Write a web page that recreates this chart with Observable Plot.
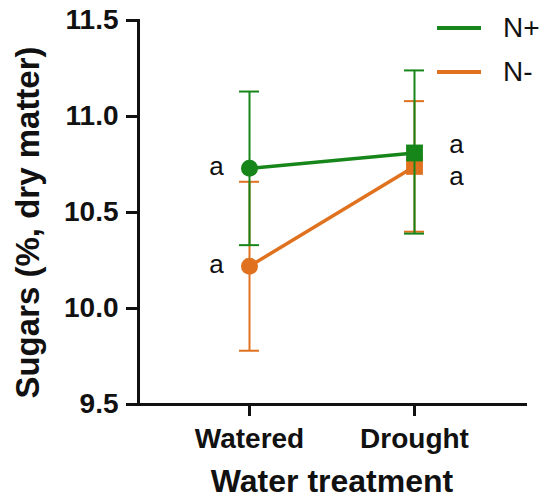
<!DOCTYPE html>
<html>
<head>
<meta charset="utf-8">
<script src="https://cdn.jsdelivr.net/npm/d3@7"></script>
<script src="https://cdn.jsdelivr.net/npm/@observablehq/plot@0.6"></script>
<style>
  html, body { margin: 0; padding: 0; background: #fff; }
  #wrap { position: relative; width: 540px; height: 500px; font-family: "Liberation Sans", Arial, sans-serif; }
  #legend { position: absolute; left: 437px; top: 6px; }
  .item { display: flex; align-items: center; height: 44px; }
  .item span { font-size: 28px; color: #111; margin-left: 22px; }
</style>
</head>
<body>
<div id="wrap"><div id="legend"></div></div>
<script>
const categories = ["Watered", "Drought"];
const series = ["N+", "N-"];
const colors = ["#17861a", "#e0721f"];
const nPlusMean = [10.73, 10.81];
const nPlusLow = [10.33, 10.39];
const nPlusHigh = [11.13, 11.24];
const nMinusMean = [10.22, 10.74];
const nMinusLow = [9.78, 10.40];
const nMinusHigh = [10.66, 11.08];
const nPlusLetters = ["a", "a"];
const nMinusLetters = ["a", "a"];
const yTicks = [9.5, 10.0, 10.5, 11.0, 11.5];

const rows = [];
categories.forEach((c, i) => {
  rows.push({cat: c, s: "N-", mean: nMinusMean[i], lo: nMinusLow[i], hi: nMinusHigh[i], letter: nMinusLetters[i]});
});
categories.forEach((c, i) => {
  rows.push({cat: c, s: "N+", mean: nPlusMean[i], lo: nPlusLow[i], hi: nPlusHigh[i], letter: nPlusLetters[i]});
});
const color = s => colors[series.indexOf(s)];

const marks = [];
for (const s of ["N-", "N+"]) {
  const d = rows.filter(r => r.s === s);
  const c = color(s);
  marks.push(
    Plot.line(d, {x: "cat", y: "mean", stroke: c, strokeWidth: 3.5}),
    Plot.ruleX(d, {x: "cat", y1: "lo", y2: "hi", stroke: c, strokeWidth: 2}),
    Plot.ruleY(d, {x1: "cat", x2: "cat", y: "lo", stroke: c, strokeWidth: 2, insetLeft: -10, insetRight: -10}),
    Plot.ruleY(d, {x1: "cat", x2: "cat", y: "hi", stroke: c, strokeWidth: 2, insetLeft: -10, insetRight: -10}),
    Plot.dot(d.filter(r => r.cat === "Watered"), {x: "cat", y: "mean", fill: c, r: 8.5, symbol: "circle"}),
    Plot.dot(d.filter(r => r.cat === "Drought"), {x: "cat", y: "mean", fill: c, r: 9.5, symbol: "square"})
  );
}
// letters
const font = {fontFamily: "Liberation Sans, Arial, sans-serif"};
marks.push(
  Plot.text(rows.filter(r => r.cat === "Watered"), {x: "cat", y: "mean", text: "letter", dx: -33, dy: -2, fontSize: 26, fill: "#111", ...font}),
  Plot.text(rows.filter(r => r.cat === "Drought" && r.s === "N+"), {x: "cat", y: "mean", text: "letter", dx: 42, dy: -8, fontSize: 26, fill: "#111", ...font}),
  Plot.text(rows.filter(r => r.cat === "Drought" && r.s === "N-"), {x: "cat", y: "mean", text: "letter", dx: 42, dy: 10, fontSize: 26, fill: "#111", ...font})
);

const chart = Plot.plot({
  width: 540,
  height: 500,
  marginLeft: 138,
  marginRight: 15,
  marginTop: 20,
  marginBottom: 96,
  style: {fontFamily: "Liberation Sans, Arial, sans-serif", background: "#fff", color: "#111"},
  x: {type: "point", domain: categories, padding: 0.67, axis: null},
  y: {domain: [9.5, 11.5], axis: null},
  marks: [
    Plot.axisY({ticks: yTicks, tickFormat: d => d.toFixed(1), tickSize: 12, tickPadding: 8, strokeWidth: 3, fontSize: 28, fontWeight: "bold", label: null, stroke: "#111", fill: "#111"}),
    Plot.axisX({tickSize: 12, tickPadding: 12, strokeWidth: 3, fontSize: 28, fontWeight: "bold", label: null, stroke: "#111", fill: "#111"}),
    Plot.frame({anchor: "left", stroke: "#111", strokeWidth: 3}),
    Plot.frame({anchor: "bottom", stroke: "#111", strokeWidth: 3}),
    Plot.text(["Water treatment"], {frameAnchor: "bottom", dy: 87, fontSize: 32, fontWeight: "bold", fill: "#111"}),
    Plot.text(["Sugars (%, dry matter)"], {frameAnchor: "left", textAnchor: "middle", rotate: -90, dx: -110, dy: 10, fontSize: 33, fontWeight: "bold", fill: "#111"}),
    ...marks
  ]
});
const wrap = document.getElementById("wrap");
wrap.insertBefore(chart, wrap.firstChild);

const legend = document.getElementById("legend");
series.forEach((s, i) => {
  const item = document.createElement("div");
  item.className = "item";
  item.innerHTML = `<svg width="44" height="6"><line x1="0" x2="44" y1="3" y2="3" stroke="${colors[i]}" stroke-width="4"/></svg><span>${s}</span>`;
  legend.appendChild(item);
});
</script>
</body>
</html>
